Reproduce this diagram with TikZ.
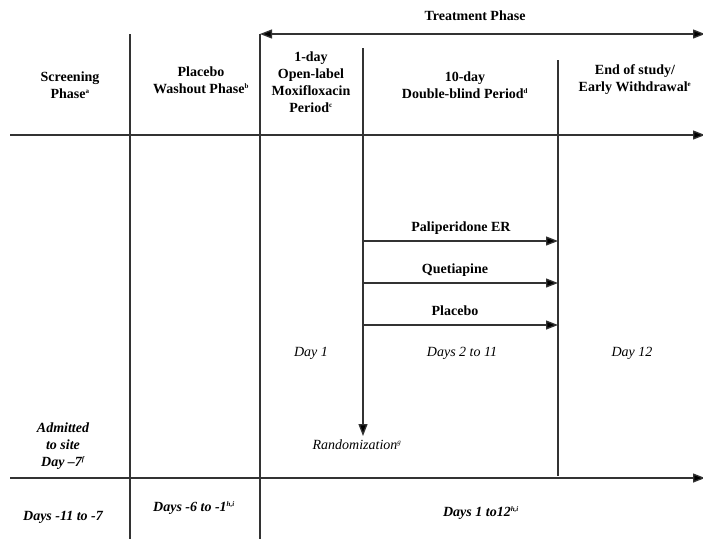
\documentclass[tikz,border=0pt]{standalone}
\usepackage{fontspec}
\setmainfont{Liberation Serif}
\usetikzlibrary{arrows.meta,positioning}

\newcommand\fnote[1]{\textsuperscript{\fontsize{7}{7}\selectfont #1}}

\tikzset{
    rule/.style={line width=1.3pt, draw=black!80},
    tip/.style={-{Triangle[length=12pt,width=9pt]}},
    head/.style={align=center, font=\fontsize{14}{17}\selectfont\bfseries},
    drug/.style={font=\fontsize{14}{17}\selectfont\bfseries},
    day/.style={align=center, font=\fontsize{14}{17}\selectfont\itshape},
    span/.style={align=center, font=\fontsize{14}{17}\selectfont\bfseries\itshape},
}

\begin{document}
\begin{tikzpicture}[x=1pt, y=-1pt]
    \useasboundingbox (0,0) rectangle (703,539);

    % grid corners
    \coordinate (tL) at (260,34);
    \coordinate (tR) at (705,34);
    \coordinate (hL) at (10,135);
    \coordinate (hR) at (705,135);
    \coordinate (bL) at (10,478);
    \coordinate (bR) at (705,478);
    \coordinate (c1top) at (130,34);
    \coordinate (c1bot) at (130,539);
    \coordinate (c2bot) at (260,539);
    \coordinate (c3top) at (363,48);
    \coordinate (c3bot) at (363,436);
    \coordinate (c4top) at (558,60);
    \coordinate (c4bot) at (558,476);

    % phase headers
    \node[head] at (475,16)(treat){Treatment Phase};
    \node[head] at (70,85)(screen){Screening\\Phase\fnote{a}};
    \node[head] at (201,80)(washout){Placebo\\Washout Phase\fnote{b}};
    \node[head] at (311,82)(moxi){1-day\\Open-label\\Moxifloxacin\\Period\fnote{c}};
    \node[head] at (465,85)(dblind){10-day\\Double-blind Period\fnote{d}};
    \node[head] at (635,80)(eos){End of study/\\Early Withdrawal\fnote{e}};

    % arms
    \coordinate (a1) at (363,241);
    \coordinate (a2) at (363,283);
    \coordinate (a3) at (363,325);
    \coordinate (e1) at (558,241);
    \coordinate (e2) at (558,283);
    \coordinate (e3) at (558,325);
    \node[drug] at (461,228)(pali){Paliperidone ER};
    \node[drug] at (455,270)(quet){Quetiapine};
    \node[drug] at (455,311)(plac){Placebo};

    % days
    \node[day] at (311,353)(d1){Day 1};
    \node[day] at (462,353)(d2){Days 2 to 11};
    \node[day] at (632,353)(d12){Day 12};
    \node[span] at (63,446)(admit){Admitted\\to site\\Day --7\fnote{f}};
    \node[day] at (357,445)(rand){Randomization\fnote{g}};
    \node[span] at (63,517)(wk1){Days -11 to -7};
    \node[span] at (194,508)(wk2){Days -6 to -1\fnote{h,i}};
    \node[span] at (481,513)(wk3){Days 1 to12\fnote{h,i}};

    \path[rule]
        (tL) edge[{Triangle[length=12pt,width=9pt]}-{Triangle[length=12pt,width=9pt]}] (tR)
        (hL) edge[tip] (hR)
        (bL) edge[tip] (bR)
        (c1top) edge (c1bot)
        (tL) edge (c2bot)
        (c3top) edge[tip] (c3bot)
        (c4top) edge (c4bot)
        (a1) edge[tip] (e1)
        (a2) edge[tip] (e2)
        (a3) edge[tip] (e3)
        ;
\end{tikzpicture}
\end{document}
